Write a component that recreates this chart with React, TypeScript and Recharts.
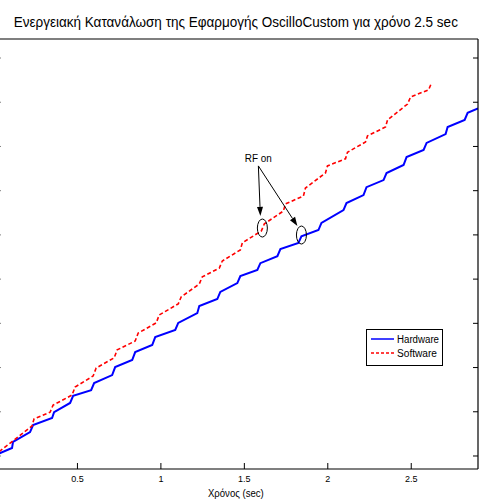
import React from "react";
import { LineChart, Line, XAxis, YAxis, ReferenceDot, ReferenceLine, Legend } from "recharts";

// time axis in sec, energy in tick units (y labels are cropped off in the source)
const hwTime = [0, 0.108, 0.114, 0.216, 0.234, 0.348, 0.36, 0.456, 0.474, 0.582, 0.6, 0.708, 0.726, 0.828, 0.846, 0.948, 0.966, 1.086, 1.104, 1.218, 1.23, 1.338, 1.356, 1.458, 1.476, 1.578, 1.596, 1.698, 1.716, 1.824, 1.842, 1.944, 1.962, 2.094, 2.112, 2.214, 2.232, 2.334, 2.352, 2.454, 2.472, 2.574, 2.592, 2.706, 2.718, 2.82, 2.838, 2.9];
const hwEnergy = [1.01, 1.18, 1.32, 1.54, 1.7, 1.86, 1.99, 2.2, 2.36, 2.49, 2.65, 2.83, 3.01, 3.17, 3.35, 3.51, 3.69, 3.85, 4.01, 4.23, 4.39, 4.55, 4.71, 4.91, 5.07, 5.21, 5.36, 5.52, 5.68, 5.82, 5.97, 6.11, 6.27, 6.56, 6.72, 6.9, 7.08, 7.24, 7.4, 7.58, 7.76, 7.92, 8.08, 8.28, 8.44, 8.6, 8.76, 8.86];

const swTime = [0, 0.114, 0.228, 0.24, 0.336, 0.354, 0.468, 0.486, 0.594, 0.612, 0.72, 0.738, 0.846, 0.864, 0.972, 0.99, 1.104, 1.122, 1.23, 1.248, 1.35, 1.368, 1.476, 1.488, 1.602, 1.62, 1.734, 1.746, 1.854, 1.866, 1.986, 1.998, 2.106, 2.118, 2.226, 2.238, 2.346, 2.358, 2.478, 2.496, 2.604, 2.622];
const swEnergy = [1.01, 1.34, 1.68, 1.84, 1.99, 2.15, 2.38, 2.56, 2.81, 2.99, 3.22, 3.4, 3.6, 3.78, 4.01, 4.19, 4.44, 4.6, 4.89, 5.05, 5.25, 5.41, 5.66, 5.82, 6.09, 6.25, 6.54, 6.7, 6.88, 7.06, 7.4, 7.56, 7.72, 7.87, 8.1, 8.24, 8.44, 8.6, 8.96, 9.12, 9.28, 9.44];

const seriesNames = ["Hardware", "Software"];
const xTicks = [0.5, 1, 1.5, 2, 2.5];
const yTicks = [1, 2, 3, 4, 5, 6, 7, 8, 9, 10];

// "RF on" annotation
const rfText = { t: 1.584, e: 7.74 };
const rfArrowStart = { t: 1.584, e: 7.56 };
const rfArrowEnds = [
  { t: 1.596, e: 6.43 },
  { t: 1.818, e: 6.2 },
];
const rfCircles = [
  { t: 1.608, e: 6.155 },
  { t: 1.842, e: 5.997 },
];

const hardware = hwTime.map((t, i) => ({ t, e: hwEnergy[i] }));
const software = swTime.map((t, i) => ({ t, e: swEnergy[i] }));

const FONT = "'Liberation Sans', Arial, sans-serif";

const BottomTick = (p: any) => (
  <g>
    <line x1={p.x} y1={p.y} x2={p.x} y2={p.y - 6} stroke="#000" />
    <text x={p.x} y={p.y + 13} textAnchor="middle" fontSize={9} fontFamily={FONT} fill="#000">
      {p.payload.value}
    </text>
  </g>
);
const TopTick = (p: any) => <line x1={p.x} y1={p.y} x2={p.x} y2={p.y + 6} stroke="#000" />;
const LeftTick = (p: any) => <line x1={p.x} y1={p.y} x2={p.x + 6.5} y2={p.y} stroke="#000" />;
const RightTick = (p: any) => <line x1={p.x} y1={p.y} x2={p.x - 5} y2={p.y} stroke="#000" />;

const Arrow = (p: any) => {
  const { x1, y1, x2, y2 } = p;
  const a = Math.atan2(y2 - y1, x2 - x1);
  const bx = x2 - 9 * Math.cos(a);
  const by = y2 - 9 * Math.sin(a);
  const ox = -Math.sin(a) * 3;
  const oy = Math.cos(a) * 3;
  return (
    <g>
      <line x1={x1} y1={y1} x2={bx} y2={by} stroke="#000" strokeWidth={1} />
      <polygon points={`${x2},${y2} ${bx + ox},${by + oy} ${bx - ox},${by - oy}`} fill="#000" />
    </g>
  );
};

const LegendBox = () => (
  <div
    style={{
      width: 77,
      height: 37,
      boxSizing: "border-box",
      border: "1px solid #000",
      background: "#fff",
      position: "relative",
    }}
  >
    <svg width={77} height={37} style={{ position: "absolute", left: -1, top: -1 }}>
      <line x1={5} y1={10} x2={28} y2={10} stroke="#0000ff" strokeWidth={1.5} />
      <text x={31} y={13.5} fontSize={10} fontFamily={FONT} fill="#000" textLength={42} lengthAdjust="spacingAndGlyphs">{seriesNames[0]}</text>
      <line x1={5} y1={24} x2={28} y2={24} stroke="#ff0000" strokeWidth={1.5} strokeDasharray="3 2" />
      <text x={31} y={27.5} fontSize={10} fontFamily={FONT} fill="#000" textLength={40} lengthAdjust="spacingAndGlyphs">{seriesNames[1]}</text>
    </svg>
  </div>
);

export default function App() {
  return (
    <div style={{ position: "absolute", left: 0, top: 0, width: 480, height: 504, overflow: "hidden", background: "#fff" }}>
      <div
        style={{
          position: "absolute", left: -6, top: 14, width: 484, textAlign: "center",
          fontFamily: FONT, fontSize: 14, lineHeight: "16px", whiteSpace: "nowrap",
          transform: "scaleX(0.965)", transformOrigin: "236px 0",
        }}
      >
        Ενεργειακή Κατανάλωση της Εφαρμογής OscilloCustom για χρόνο 2.5 sec
      </div>
      <div style={{ position: "absolute", left: -7, top: 0 }}>
        <LineChart width={487} height={504} margin={{ top: 38, right: 1, bottom: 0, left: 0 }}>
          <XAxis
            dataKey="t" type="number" domain={[0, 2.9]} ticks={xTicks} allowDataOverflow
            height={35} tickSize={0} tickMargin={0} tickLine={false} tick={BottomTick}
            axisLine={{ stroke: "#000", strokeWidth: 1.2 }}
          />
          <XAxis
            xAxisId="top" orientation="top" dataKey="t" type="number" domain={[0, 2.9]} ticks={xTicks}
            height={1} tickSize={0} tickMargin={0} tickLine={false} tick={TopTick}
            axisLine={{ stroke: "#000", strokeWidth: 1.2 }}
          />
          <YAxis
            type="number" domain={[0.706, 10.43]} ticks={yTicks} allowDataOverflow
            width={1} tickSize={0} tickMargin={0} tickLine={false} tick={LeftTick}
            axisLine={{ stroke: "#000" }}
          />
          <YAxis
            yAxisId="r" orientation="right" type="number" domain={[0.706, 10.43]} ticks={yTicks} allowDataOverflow
            width={1} tickSize={0} tickMargin={0} tickLine={false} tick={RightTick}
            axisLine={{ stroke: "#000", strokeWidth: 1.2 }}
          />
          <Line
            data={hardware} dataKey="e" name={seriesNames[0]} type="linear" stroke="#0000ff"
            strokeWidth={2} dot={false} activeDot={false} isAnimationActive={false}
          />
          <Line
            data={software} dataKey="e" name={seriesNames[1]} type="linear" stroke="#ff0000"
            strokeWidth={1.6} strokeDasharray="4 2.5" dot={false} activeDot={false} isAnimationActive={false}
          />
          {rfArrowEnds.map((end, i) => (
            <ReferenceLine
              key={"arr" + i}
              segment={[{ x: rfArrowStart.t, y: rfArrowStart.e }, { x: end.t, y: end.e }]}
              shape={Arrow}
            />
          ))}
          {rfCircles.map((c, i) => (
            <ReferenceDot
              key={"c" + i} x={c.t} y={c.e} r={5}
              shape={(p: any) => <ellipse cx={p.cx} cy={p.cy} rx={5} ry={9} fill="none" stroke="#000" strokeWidth={1} />}
            />
          ))}
          <ReferenceDot
            x={rfText.t} y={rfText.e} r={0}
            shape={(p: any) => (
              <text x={p.cx} y={p.cy + 4} textAnchor="middle" fontSize={11} fontFamily={FONT} fill="#000" textLength={27} lengthAdjust="spacingAndGlyphs">RF on</text>
            )}
          />
          <Legend
            layout="horizontal" verticalAlign="middle" align="center"
            wrapperStyle={{ position: "absolute", left: 373, top: 329, width: 77, height: 37 }}
            content={LegendBox}
          />
        </LineChart>
      </div>
      <div
        style={{
          position: "absolute", left: -6, top: 487, width: 484, textAlign: "center",
          fontFamily: FONT, fontSize: 11, lineHeight: "13px", whiteSpace: "nowrap",
          transform: "scaleX(0.87)", transformOrigin: "241px 0",
        }}
      >
        Χρόνος (sec)
      </div>
    </div>
  );
}
